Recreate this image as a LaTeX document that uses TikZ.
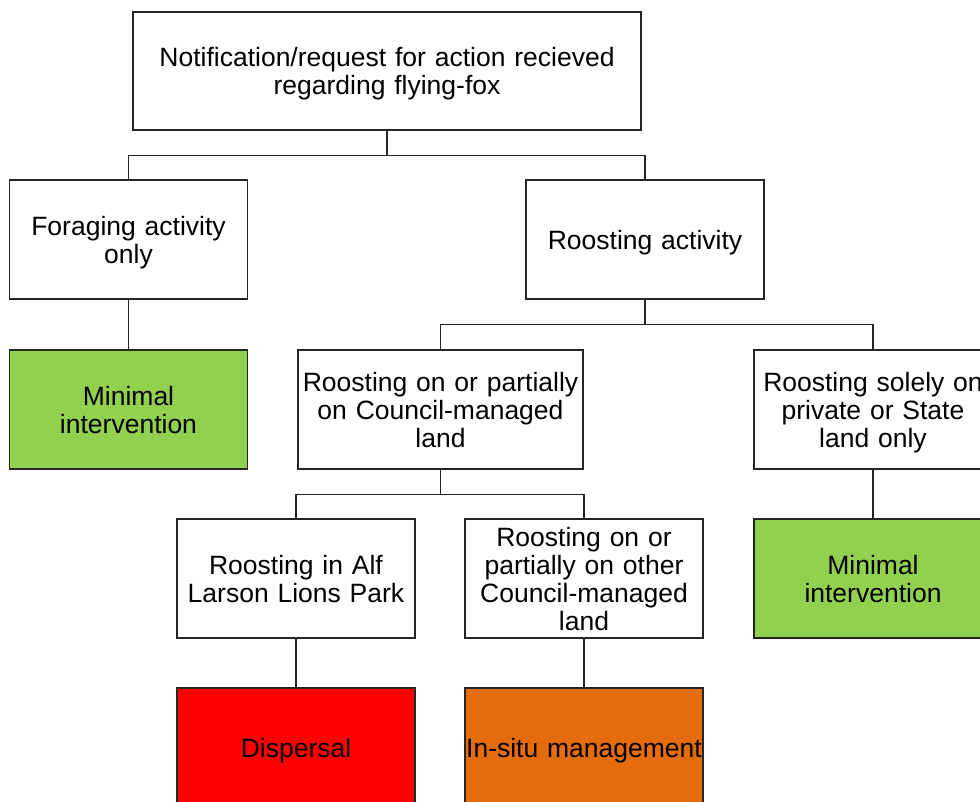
\documentclass[tikz,border=0pt]{standalone}
\usepackage{fontspec}
\setmainfont{Liberation Sans}
\usepackage{tikz}

\definecolor{mingreen}{HTML}{92D050}
\definecolor{disred}{HTML}{FF0000}
\definecolor{situorange}{HTML}{E46C0A}

\tikzset{
	box/.style={draw=black!85, line width=1.3pt, fill=white, align=center, inner sep=0pt,
		text width=238pt, minimum height=119pt,
		font=\fontsize{26.5pt}{28pt}\selectfont,
		execute at begin node={\rule{0pt}{27pt}},
		execute at end node={\rule[-8pt]{0pt}{8pt}}},
	link/.style={draw=black!85, line width=1.3pt}
}

\begin{document}
\begin{tikzpicture}[x=1pt, y=-1pt]
		\clip (0, 0) rectangle (980, 801);
		\fill[white] (0, 0) rectangle (980, 801);
		% top level
		\node[box, text width=508pt, minimum height=118pt] (notice) at (387, 71)
			{Notification/request for action recieved\\regarding flying-fox};
		\node[box] (forage) at (128.5, 239.5) {Foraging activity\\only};
		\node[box] (roost) at (645, 239.5) {Roosting activity};
		% second level
		\node[box, fill=mingreen] (minimalA) at (128.5, 409.5) {Minimal\\intervention};
		\node[box, text width=285pt] (council) at (440.5, 409.5)
			{Roosting on or partially\\on Council-managed\\land};
		\node[box] (private) at (873, 409.5) {Roosting solely on\\private or State\\land only};
		% third level
		\node[box] (alfpark) at (296, 578.5) {Roosting in Alf\\Larson Lions Park};
		\node[box] (othercouncil) at (584, 578.5)
			{Roosting on or\\partially on other\\Council-managed\\land};
		\node[box, fill=mingreen] (minimalB) at (873, 578.5) {Minimal\\intervention};
		% outcomes
		\node[box, fill=disred] (dispersal) at (296, 747.5) {Dispersal};
		\node[box, fill=situorange] (insitu) at (584, 747.5) {In-situ management};
		% connectors
		\foreach \from/\to in {notice/forage, notice/roost, roost/council, roost/private,
			council/alfpark, council/othercouncil}
			\draw[link] (\from.south) -- ++(0, 25) -| (\to.north);
		\foreach \from/\to in {forage/minimalA, private/minimalB, alfpark/dispersal,
			othercouncil/insitu}
			\draw[link] (\from.south) -- (\to.north);
	\end{tikzpicture}
\end{document}
